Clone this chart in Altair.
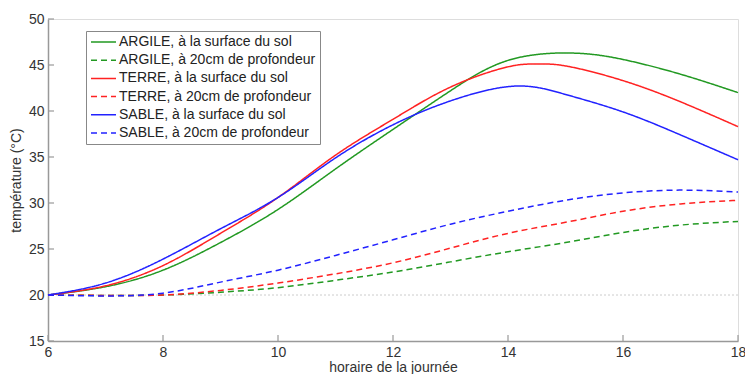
import altair as alt
import pandas as pd

# ---- data ----
SERIES = [
    "ARGILE, à la surface du sol",
    "ARGILE, à 20cm de profondeur",
    "TERRE, à la surface du sol",
    "TERRE, à 20cm de profondeur",
    "SABLE, à la surface du sol",
    "SABLE, à 20cm de profondeur",
]
COLORS = ["#229922", "#229922", "#ff2222", "#ff2222", "#2222ff", "#2222ff"]
DASHES = [[1, 0], [6, 4], [1, 0], [6, 4], [1, 0], [6, 4]]

HOURS = [6, 7, 8, 9, 10, 11, 12, 13, 14, 15, 16, 17, 18]
H_ARGILE_SURF = [6, 7, 8, 9, 10, 11, 12, 13, 14, 15.1, 16, 17, 18]
H_TERRE_SURF = [6, 7, 8, 9, 10, 11, 12, 13, 14, 14.5, 15, 16, 17, 18]
H_SABLE_SURF = [6, 7, 8, 9, 10, 11, 12, 13, 14.1, 15, 16, 17, 18]

ARGILE_SURF = [20, 20.9, 22.7, 25.7, 29.3, 33.7, 38.0, 42.2, 45.5, 46.3, 45.6, 44.0, 42.0]
TERRE_SURF = [20, 21.0, 23.2, 26.7, 30.6, 35.2, 39.1, 42.6, 44.8, 45.1, 44.9, 43.3, 41.0, 38.3]
SABLE_SURF = [20, 21.3, 23.9, 27.2, 30.6, 34.9, 38.5, 41.1, 42.7, 41.8, 39.9, 37.4, 34.7]

ARGILE_20 = [20, 19.95, 20.0, 20.3, 20.8, 21.6, 22.5, 23.6, 24.7, 25.7, 26.8, 27.6, 28.0]
TERRE_20 = [20, 19.95, 20.0, 20.5, 21.3, 22.3, 23.5, 25.1, 26.7, 27.9, 29.1, 29.9, 30.3]
SABLE_20 = [20, 19.9, 20.2, 21.4, 22.7, 24.3, 26.0, 27.7, 29.1, 30.3, 31.1, 31.4, 31.2]

Y_TICKS = [15, 20, 25, 30, 35, 40, 45, 50]
X_TICKS = [6, 8, 10, 12, 14, 16, 18]
BASELINE_X = [6, 18]
BASELINE_Y = [20, 20]

FONT = "Liberation Sans"

rows = []
for name, hs, vs in [
    (SERIES[0], H_ARGILE_SURF, ARGILE_SURF),
    (SERIES[1], HOURS, ARGILE_20),
    (SERIES[2], H_TERRE_SURF, TERRE_SURF),
    (SERIES[3], HOURS, TERRE_20),
    (SERIES[4], H_SABLE_SURF, SABLE_SURF),
    (SERIES[5], HOURS, SABLE_20),
]:
    for h, v in zip(hs, vs):
        rows.append({"serie": name, "h": h, "t": v})
df = pd.DataFrame(rows)

W, H = 690, 322

xscale = alt.Scale(domain=[6, 18], nice=False, zero=False)
yscale = alt.Scale(domain=[15, 50], nice=False, zero=False)

base_x = alt.X(
    "h:Q", scale=xscale,
    axis=alt.Axis(values=X_TICKS, format="d", title="horaire de la journée", grid=False,
                  tickSize=0, labelPadding=4, titlePadding=1,
                  domainColor="#999999", domainWidth=1.5,
                  labelColor="#333333", labelFontSize=14, labelFont=FONT,
                  titleFont=FONT, titleFontSize=14, titleFontWeight="normal",
                  titleColor="#333333", labelFlush=False),
)
base_y = alt.Y(
    "t:Q", scale=yscale,
    axis=alt.Axis(values=Y_TICKS, format="d", title="température (°C)", grid=False,
                  tickSize=0, labelPadding=4, titlePadding=5,
                  domainColor="#999999", domainWidth=1.5,
                  labelColor="#333333", labelFontSize=14, labelFont=FONT,
                  titleFont=FONT, titleFontSize=14, titleFontWeight="normal",
                  titleColor="#333333", labelFlush=False),
)

legend = alt.Legend(
    title=None, orient="none", legendX=38, legendY=12,
    strokeColor="#888888", fillColor="white", padding=4,
    symbolType="stroke", symbolSize=625, symbolStrokeWidth=1.5,
    labelFont=FONT, labelFontSize=14, labelColor="#222222",
    labelOffset=2, rowPadding=4.2, clipHeight=14, labelLimit=400,
)

lines = alt.Chart(df).mark_line(strokeWidth=1.5, interpolate="natural").encode(
    x=base_x,
    y=base_y,
    color=alt.Color("serie:N", scale=alt.Scale(domain=SERIES, range=COLORS), legend=legend),
    strokeDash=alt.StrokeDash("serie:N", scale=alt.Scale(domain=SERIES, range=DASHES), legend=legend),
    order=alt.Order("h:Q"),
)

base_df = pd.DataFrame({"h": BASELINE_X, "t": BASELINE_Y})
baseline = alt.Chart(base_df).mark_line(
    color="#cccccc", strokeDash=[2, 2], strokeWidth=1
).encode(x=alt.X("h:Q", scale=xscale), y=alt.Y("t:Q", scale=yscale))

xt = pd.DataFrame({"h": X_TICKS})
xticks = alt.Chart(xt).mark_rule(color="#999999", strokeWidth=1.2).encode(
    x=alt.X("h:Q", scale=xscale), y=alt.value(H), y2=alt.value(H - 6)
)
yt = pd.DataFrame({"t": Y_TICKS})
yticks = alt.Chart(yt).mark_rule(color="#999999", strokeWidth=1.2).encode(
    y=alt.Y("t:Q", scale=yscale), x=alt.value(0), x2=alt.value(6)
)

chart = alt.layer(baseline, xticks, yticks, lines).properties(
    width=W, height=H,
    autosize=alt.AutoSizeParams(type="none"),
    padding={"left": 48, "top": 19, "right": 7, "bottom": 33},
).configure_view(stroke=None).configure(background="white")

chart.save("out.html", embed_options={"renderer": "svg", "actions": False})
